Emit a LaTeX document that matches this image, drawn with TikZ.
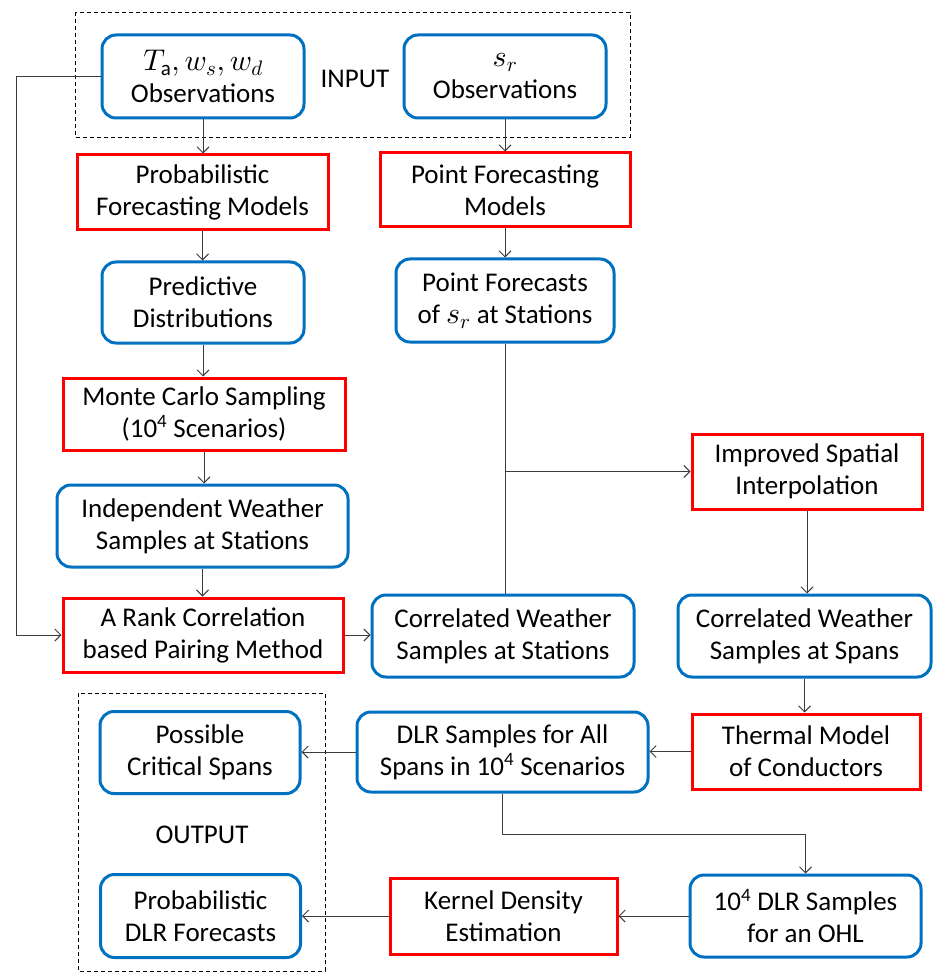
\documentclass[tikz,border=0pt]{standalone}
\usepackage{fontspec}
\setmainfont{Carlito}
\DeclareFontShape{OML}{cmm}{m}{it}{<->cmmi10}{}
\DeclareFontShape{OMS}{cmsy}{m}{n}{<->cmsy10}{}
\DeclareFontShape{OT1}{cmr}{m}{n}{<->cmr10}{}
\usetikzlibrary{arrows.meta}
\definecolor{bxblue}{RGB}{0,112,192}
\definecolor{bxred}{RGB}{255,0,0}
\definecolor{lncol}{RGB}{60,60,60}
\newcommand{\bigmath}[1]{{\fontsize{30}{32}\selectfont$#1$}}
\begin{document}
\begin{tikzpicture}[x=1pt,y=-1pt,
  base/.style={align=center, inner sep=0pt, font=\fontsize{27}{32}\selectfont, line width=3pt, text=black},
  bbox/.style={base, draw=bxblue, rounded corners=14pt},
  rbox/.style={base, draw=bxred},
  arr/.style={line width=1pt, draw=lncol, -{Straight Barb[length=6pt,width=12pt]}},
  plain/.style={line width=1pt, draw=lncol},
  dbox/.style={draw=black, line width=0.9pt, dash pattern=on 4pt off 3pt},
  lbl/.style={font=\fontsize{27}{32}\selectfont, inner sep=0pt}]
\useasboundingbox (0,0) rectangle (933,973);
\fill[white] (0,0) rectangle (933,973);
% dashed groups
\draw[dbox] (75,12) rectangle (630,137);
\draw[dbox] (78,693) rectangle (325,971);
\node[lbl] (inlbl) at (355,79) {INPUT};
\node[lbl] (outlbl) at (202,835) {OUTPUT};
% nodes
\node[bbox, minimum width=202pt, minimum height=83pt] (obsT) at (203,76.5) {\bigmath{T_{\mathrm{a}}, w_s, w_d}\\Observations};
\node[bbox, minimum width=202pt, minimum height=83pt] (obsS) at (505,76.5) {\bigmath{s_r}\\Observations};
\node[rbox, minimum width=251pt, minimum height=75pt] (pfm) at (202.5,192.5) {Probabilistic\\Forecasting Models};
\node[rbox, minimum width=250pt, minimum height=74pt] (ptm) at (505,190) {Point Forecasting\\Models};
\node[bbox, minimum width=202pt, minimum height=81pt] (pred) at (203,302.5) {Predictive\\Distributions};
\node[bbox, minimum width=218pt, minimum height=83pt] (pfc) at (505,300.5) {Point Forecasts\\of \bigmath{s_r} at Stations};
\node[rbox, minimum width=282pt, minimum height=72pt] (mc) at (204,414) {Monte Carlo Sampling\\(10\textsuperscript{4} Scenarios)};
\node[bbox, minimum width=291pt, minimum height=82pt] (indep) at (202.5,526) {Independent Weather\\Samples at Stations};
\node[rbox, minimum width=280pt, minimum height=74pt] (rank) at (203,635) {A Rank Correlation\\based Pairing Method};
\node[bbox, minimum width=262pt, minimum height=82pt] (corrSt) at (503,636) {Correlated Weather\\Samples at Stations};
\node[rbox, minimum width=230pt, minimum height=75pt] (impr) at (807,471.5) {Improved Spatial\\Interpolation};
\node[bbox, minimum width=253pt, minimum height=82pt] (corrSp) at (804.5,636) {Correlated Weather\\Samples at Spans};
\node[rbox, minimum width=228pt, minimum height=75pt] (therm) at (806,751.5) {Thermal Model\\of Conductors};
\node[bbox, minimum width=291pt, minimum height=80pt] (dlr) at (502.5,752) {DLR Samples for All\\Spans in 10\textsuperscript{4} Scenarios};
\node[bbox, minimum width=200pt, minimum height=82pt] (poss) at (200,752.5) {Possible\\Critical Spans};
\node[bbox, minimum width=200pt, minimum height=83pt] (pdlr) at (200.5,916) {Probabilistic\\DLR Forecasts};
\node[rbox, minimum width=227pt, minimum height=76pt] (kde) at (503.5,916) {Kernel Density\\Estimation};
\node[bbox, minimum width=231pt, minimum height=82pt] (ohl) at (805.5,916) {10\textsuperscript{4} DLR Samples\\for an OHL};
% helper coordinates
\coordinate (lc) at (16,78);
\coordinate (bend) at (503,834);
% connectors
\draw[arr] (obsT.west) -- (obsT.west -| lc) -- (lc |- rank.west) -- (rank.west);
\draw[arr] (obsT.south) -- (obsT.south |- pfm.north);
\draw[arr] (obsS.south) -- (obsS.south |- ptm.north);
\draw[arr] (pfm.south) -- (pfm.south |- pred.north);
\draw[arr] (ptm.south) -- (ptm.south |- pfc.north);
\draw[arr] (pred.south) -- (pred.south |- mc.north);
\draw[arr] (mc.south) -- (mc.south |- indep.north);
\draw[arr] (indep.south) -- (indep.south |- rank.north);
\draw[plain] (pfc.south) -- (pfc.south |- corrSt.north);
\draw[arr] (pfc.south |- impr.west) -- (impr.west);
\draw[arr] (rank.east) -- (rank.east -| corrSt.west);
\draw[arr] (impr.south) -- (impr.south |- corrSp.north);
\draw[arr] (corrSp.south) -- (corrSp.south |- therm.north);
\draw[arr] (therm.west) -- (therm.west -| dlr.east);
\draw[arr] (dlr.west) -- (dlr.west -| poss.east);
\draw[arr] (dlr.south) -- (dlr.south |- bend) -- (bend -| ohl.north) -- (ohl.north);
\draw[arr] (ohl.west) -- (ohl.west -| kde.east);
\draw[arr] (kde.west) -- (kde.west -| pdlr.east);
\end{tikzpicture}
\end{document}
